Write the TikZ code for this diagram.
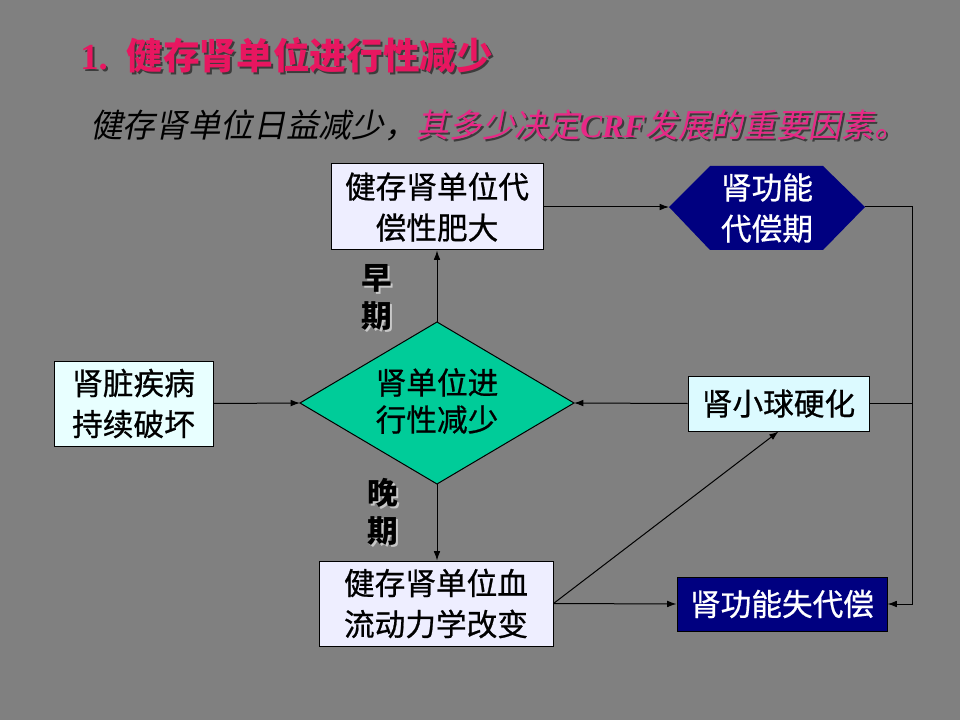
\documentclass[tikz,border=0pt]{standalone}
\usepackage{fontspec}
\usetikzlibrary{arrows.meta}
\setmainfont{Noto Sans CJK SC}
\newfontfamily\cjkit{Noto Sans CJK SC}[FakeSlant=0.2]
\newfontfamily\cjkbox{Noto Sans CJK SC}[FakeBold=0.7]
\newfontfamily\crffont{Liberation Serif}
\newfontfamily\numfont{Liberation Serif}
\definecolor{bgc}{RGB}{128,128,128}
\definecolor{titlec}{RGB}{232,22,96}
\definecolor{subc}{RGB}{232,40,134}
\definecolor{shadowc}{RGB}{60,60,60}
\definecolor{lightshadow}{RGB}{200,200,200}
\definecolor{lav}{RGB}{238,238,255}
\definecolor{lcyan}{RGB}{232,255,255}
\definecolor{gcyan}{RGB}{220,250,255}
\definecolor{navy}{RGB}{0,0,128}
\definecolor{teal}{RGB}{0,204,153}
\begin{document}
\begin{tikzpicture}[x=0.75pt,y=-0.75pt,
  >={Latex[length=7pt,width=5pt]},
  conn/.style={draw=black,line width=0.75pt},
  box/.style={draw=black,line width=0.75pt,inner sep=0pt,align=center,
     font=\cjkbox\fontsize{23}{30.75}\selectfont},
  lab/.style={inner sep=0pt,align=center,font=\bfseries\fontsize{23}{28.5}\selectfont}]
\fill[bgc] (0,0) rectangle (960,720);
\useasboundingbox (0,0) rectangle (960,720);

% title
\node[anchor=west,inner sep=0pt,text=shadowc,font=\bfseries\fontsize{27.5}{30}\selectfont] (titleS) at (82,57) {{\numfont\bfseries 1.}\hspace{14pt}健存肾单位进行性减少};
\node[anchor=west,inner sep=0pt,text=titlec,font=\bfseries\fontsize{27.5}{30}\selectfont] (title) at (80,55) {{\numfont\bfseries 1.}\hspace{14pt}健存肾单位进行性减少};

% subtitle
\node[anchor=west,inner sep=0pt,font=\cjkit\fontsize{24.5}{27}\selectfont] (subS) at (92,127) {\phantom{健存肾单位日益减少，}\textcolor{shadowc}{其多少决定{\crffont\bfseries\itshape CRF}发展的重要因素。}};
\node[anchor=west,inner sep=0pt,font=\cjkit\fontsize{24.5}{27}\selectfont] (sub) at (90,125) {健存肾单位日益减少，\textcolor{subc}{其多少决定{\crffont\bfseries\itshape CRF}发展的重要因素。}};

% boxes
\node[box,fill=lav,minimum width=159pt,minimum height=64.5pt] (A) at (437,207) {健存肾单位代\\偿性肥大};
\node[box,fill=lcyan,minimum width=119.25pt,minimum height=63.75pt] (L) at (133.5,403.5) {肾脏疾病\\持续破坏};
\node[box,fill=gcyan,minimum width=135.75pt,minimum height=41.25pt] (G) at (778.5,403.5) {肾小球硬化};
\node[box,fill=lav,minimum width=175.5pt,minimum height=63.75pt] (B) at (436,603.5) {健存肾单位血\\流动力学改变};
\node[box,fill=navy,text=white,minimum width=157.5pt,minimum height=40.5pt] (F) at (782,604) {肾功能失代偿};

% hexagon
\coordinate (hL) at (669,207);
\coordinate (hR) at (865,207);
\fill[navy] (hL) -- (710,166) -- (823,166) -- (hR) -- (823,250) -- (710,250) -- cycle;
\node[align=center,inner sep=0pt,text=white,font=\cjkbox\fontsize{23}{30.75}\selectfont] (H) at (767,208) {肾功能\\代偿期};

% diamond
\coordinate (dL) at (300,403);
\coordinate (dR) at (574,403);
\coordinate (dT) at (437,322);
\coordinate (dB) at (437,484);
\filldraw[fill=teal,draw=black,line width=0.75pt] (dL) -- (dT) -- (dR) -- (dB) -- cycle;
\node[align=center,inner sep=0pt,font=\cjkbox\fontsize{23}{27.75}\selectfont] (D) at (437,401) {肾单位进\\行性减少};

% stage labels
\node[lab,text=lightshadow] (earlyS) at (379,299) {早\\期};
\node[lab] (early) at (377,297) {早\\期};
\node[lab,text=lightshadow] (lateS) at (385,514) {晚\\期};
\node[lab] (late) at (383,512) {晚\\期};

% connectors
\coordinate (rr) at (912,207);
\draw[conn,->] (dT) -- (A.south);
\draw[conn,->] (dB) -- (dB |- B.north);
\draw[conn,->] (L.east) -- (dL);
\draw[conn,->] (G.west) -- (dR);
\draw[conn,->] (A.east) -- (hL);
\draw[conn,->] (hR) -- (rr) |- (F.east);
\draw[conn] (G.east) -- (G.east -| rr);
\draw[conn,->] (B.east) -- (F.west);
\draw[conn,->] (B.east) -- (G.south);
\end{tikzpicture}
\end{document}
